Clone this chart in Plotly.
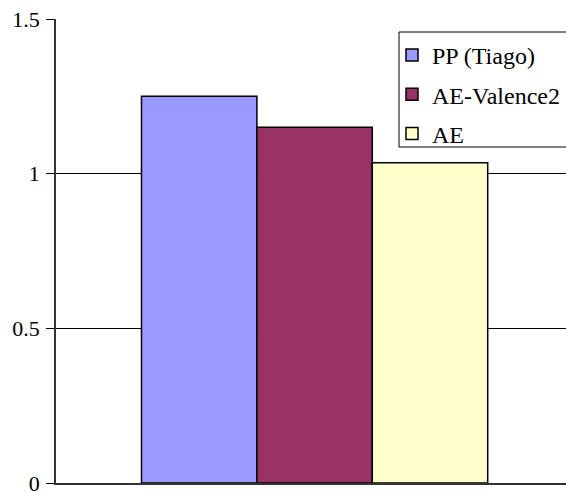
import plotly.graph_objects as go

categories = [""]
series_names = ["PP (Tiago)", "AE-Valence2", "AE"]
series_values = [1.25, 1.15, 1.035]
series_colors = ["#9999FF", "#993366", "#FFFFCC"]
tick_vals = [0, 0.5, 1, 1.5]
tick_text = ["0", "0.5", "1", "1.5"]

FONT = "Liberation Serif, Times New Roman, serif"

fig = go.Figure()
for i, (name, val, col) in enumerate(zip(series_names, series_values, series_colors)):
    fig.add_trace(go.Bar(
        x=categories, y=[val], name=name,
        marker=dict(color=col, line=dict(color="black", width=1.5)),
        legendgroup="g%d" % i,
    ))

# legend frame (style only)
fig.add_shape(type="rect", xref="paper", yref="paper",
              x0=(399 - 56) / 510, x1=1.05, y0=(483 - 147) / 464, y1=(483 - 32) / 464,
              line=dict(color="black", width=1), fillcolor="white", layer="above")

fig.update_layout(
    width=566, height=492,
    margin=dict(l=56, r=0, t=19, b=9, autoexpand=False),
    paper_bgcolor="white", plot_bgcolor="white",
    barmode="group", bargap=0.25, bargroupgap=0,
    showlegend=True,
    legend=dict(
        x=(392 - 56) / 510, y=(483 - 33) / 464, xanchor="left", yanchor="top",
        xref="paper", yref="paper",
        font=dict(family=FONT, size=24, color="black"),
        borderwidth=0, bgcolor="rgba(0,0,0,0)",
        traceorder="grouped", tracegroupgap=5,
        itemwidth=30,
    ),
    font=dict(family=FONT, color="black"),
)
fig.update_xaxes(
    range=[-0.5602, 0.5446], showticklabels=False, ticks="",
    showline=True, linecolor="#333333", linewidth=1.5, showgrid=False,
)
fig.update_yaxes(
    range=[0, 1.5], tickvals=tick_vals, ticktext=tick_text,
    tickfont=dict(family=FONT, size=22, color="black"),
    ticks="outside", ticklen=8, tickcolor="black", tickwidth=1,
    ticklabelstandoff=2, ticklabeloverflow="allow",
    showline=True, linecolor="#333333", linewidth=1.5,
    showgrid=True, gridcolor="black", gridwidth=1, zeroline=False,
)

fig.write_html("out.html", config={"displayModeBar": False},
               post_script="document.body.style.margin='0';")
